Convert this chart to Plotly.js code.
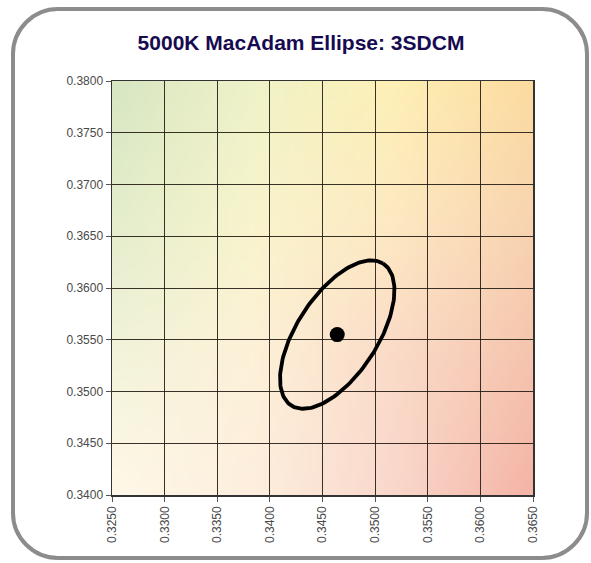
<!DOCTYPE html>
<html>
<head>
<meta charset="utf-8">
<script src="https://cdn.plot.ly/plotly-3.0.1.min.js"></script>
<style>
html,body{margin:0;padding:0;background:#fff;}
#chart{width:591px;height:563px;}
</style>
</head>
<body>
<div id="chart"></div>
<script>
// ---- data ----
const chartTitle = "5000K MacAdam Ellipse: 3SDCM";
const xRange = [0.325, 0.365];
const yRange = [0.340, 0.380];
const tickStep = 0.005;
// ellipse (3-step MacAdam) parameters
const centerX = [0.3464];
const centerY = [0.3555];
const semiMajor = 0.00813;
const semiMinor = 0.00385;
const rotationDeg = 57.6;
// background gradient control colours (rows top -> bottom, cols left -> right)
const bgRow0 = ["#d7e6c2", "#eff2c8", "#fdf0b6", "#fcdba0"];
const bgRow1 = ["#e4edcc", "#f8f4cc", "#fde9c2", "#f8d4b0"];
const bgRow2 = ["#f2f3da", "#fdf1d8", "#fadbc8", "#f5c4ae"];
const bgRow3 = ["#fff8e8", "#fdeede", "#f9d8cc", "#f4b4a6"];

// ---- build ellipse outline from its parameters ----
const ex = [], ey = [];
const th = rotationDeg * Math.PI / 180;
for (let i = 0; i <= 180; i++) {
  const t = 2 * Math.PI * i / 180;
  ex.push(centerX[0] + semiMajor * Math.cos(th) * Math.cos(t) - semiMinor * Math.sin(th) * Math.sin(t));
  ey.push(centerY[0] + semiMajor * Math.sin(th) * Math.cos(t) + semiMinor * Math.cos(th) * Math.sin(t));
}

// ---- background gradient image ----
function hex(c){return [parseInt(c.slice(1,3),16),parseInt(c.slice(3,5),16),parseInt(c.slice(5,7),16)];}
const grid = [bgRow0, bgRow1, bgRow2, bgRow3].map(r => r.map(hex));
const N = 96;
const cv = document.createElement('canvas');
cv.width = N; cv.height = N;
const ctx = cv.getContext('2d');
const img = ctx.createImageData(N, N);
for (let py = 0; py < N; py++) {
  for (let px = 0; px < N; px++) {
    const gx = px / (N - 1) * 3, gy = py / (N - 1) * 3;
    const i0 = Math.min(2, Math.floor(gx)), j0 = Math.min(2, Math.floor(gy));
    const fx = gx - i0, fy = gy - j0;
    for (let k = 0; k < 3; k++) {
      const v = (1-fx)*(1-fy)*grid[j0][i0][k] + fx*(1-fy)*grid[j0][i0+1][k] +
                (1-fx)*fy*grid[j0+1][i0][k] + fx*fy*grid[j0+1][i0+1][k];
      img.data[(py*N+px)*4+k] = Math.round(v);
    }
    img.data[(py*N+px)*4+3] = 255;
  }
}
ctx.putImageData(img, 0, 0);
const bgURL = cv.toDataURL('image/png');

// ---- frame (rounded box) path in paper coords ----
const W = 591, H = 563, ML = 112, MR = 58, MT = 81, MB = 68;
const PW = W - ML - MR, PH = H - MT - MB;
function P(px, py){ return ((px - ML) / PW).toFixed(5) + ',' + ((H - MB - py) / PH).toFixed(5); }
const bx0 = 13, bx1 = 587, by0 = 9, by1 = 558, R = 45, k = 0.45;
const framePath = 'M' + P(bx0 + R, by0) + ' L' + P(bx1 - R, by0) +
  ' C' + P(bx1 - R*k, by0) + ' ' + P(bx1, by0 + R*k) + ' ' + P(bx1, by0 + R) +
  ' L' + P(bx1, by1 - R) +
  ' C' + P(bx1, by1 - R*k) + ' ' + P(bx1 - R*k, by1) + ' ' + P(bx1 - R, by1) +
  ' L' + P(bx0 + R, by1) +
  ' C' + P(bx0 + R*k, by1) + ' ' + P(bx0, by1 - R*k) + ' ' + P(bx0, by1 - R) +
  ' L' + P(bx0, by0 + R) +
  ' C' + P(bx0, by0 + R*k) + ' ' + P(bx0 + R*k, by0) + ' ' + P(bx0 + R, by0) + ' Z';

const traces = [
  {x: ex, y: ey, type: 'scatter', mode: 'lines', line: {color: '#000', width: 3.8}, hoverinfo: 'skip', showlegend: false},
  {x: centerX, y: centerY, type: 'scatter', mode: 'markers', marker: {color: '#000', size: 15}, showlegend: false}
];

const axisCommon = {
  dtick: tickStep, tickformat: '.4f', ticks: 'outside', ticklen: 5, tickwidth: 1, tickcolor: '#555',
  showgrid: true, gridcolor: 'rgba(35,28,20,0.9)', gridwidth: 1,
  showline: true, linecolor: '#333', linewidth: 1.5, mirror: true, zeroline: false,
  tickfont: {family: 'Liberation Sans, Arial, sans-serif', size: 12, color: '#4a4a4a'},
  fixedrange: true
};

const layout = {
  width: W, height: H,
  margin: {l: ML, r: MR, t: MT, b: MB},
  paper_bgcolor: '#fff',
  plot_bgcolor: 'rgba(0,0,0,0)',
  title: {text: '<b>' + chartTitle + '</b>', font: {family: 'Liberation Sans, Arial, sans-serif', size: 21, color: '#170a50'},
          x: 301/591, xanchor: 'center', xref: 'container', y: 1 - 43/563, yanchor: 'middle', yref: 'container'},
  xaxis: Object.assign({}, axisCommon, {range: xRange, tick0: xRange[0], tickangle: -90}),
  yaxis: Object.assign({}, axisCommon, {range: yRange, tick0: yRange[0]}),
  images: [{source: bgURL, xref: 'x', yref: 'y', x: xRange[0], y: yRange[1], sizex: xRange[1]-xRange[0], sizey: yRange[1]-yRange[0], sizing: 'stretch', layer: 'below'}],
  shapes: [{type: 'path', xref: 'paper', yref: 'paper', path: framePath, line: {color: '#8c8c8c', width: 4}, fillcolor: 'rgba(0,0,0,0)', layer: 'above'}]
};

Plotly.newPlot('chart', traces, layout, {displayModeBar: false, staticPlot: true});
</script>
</body>
</html>
